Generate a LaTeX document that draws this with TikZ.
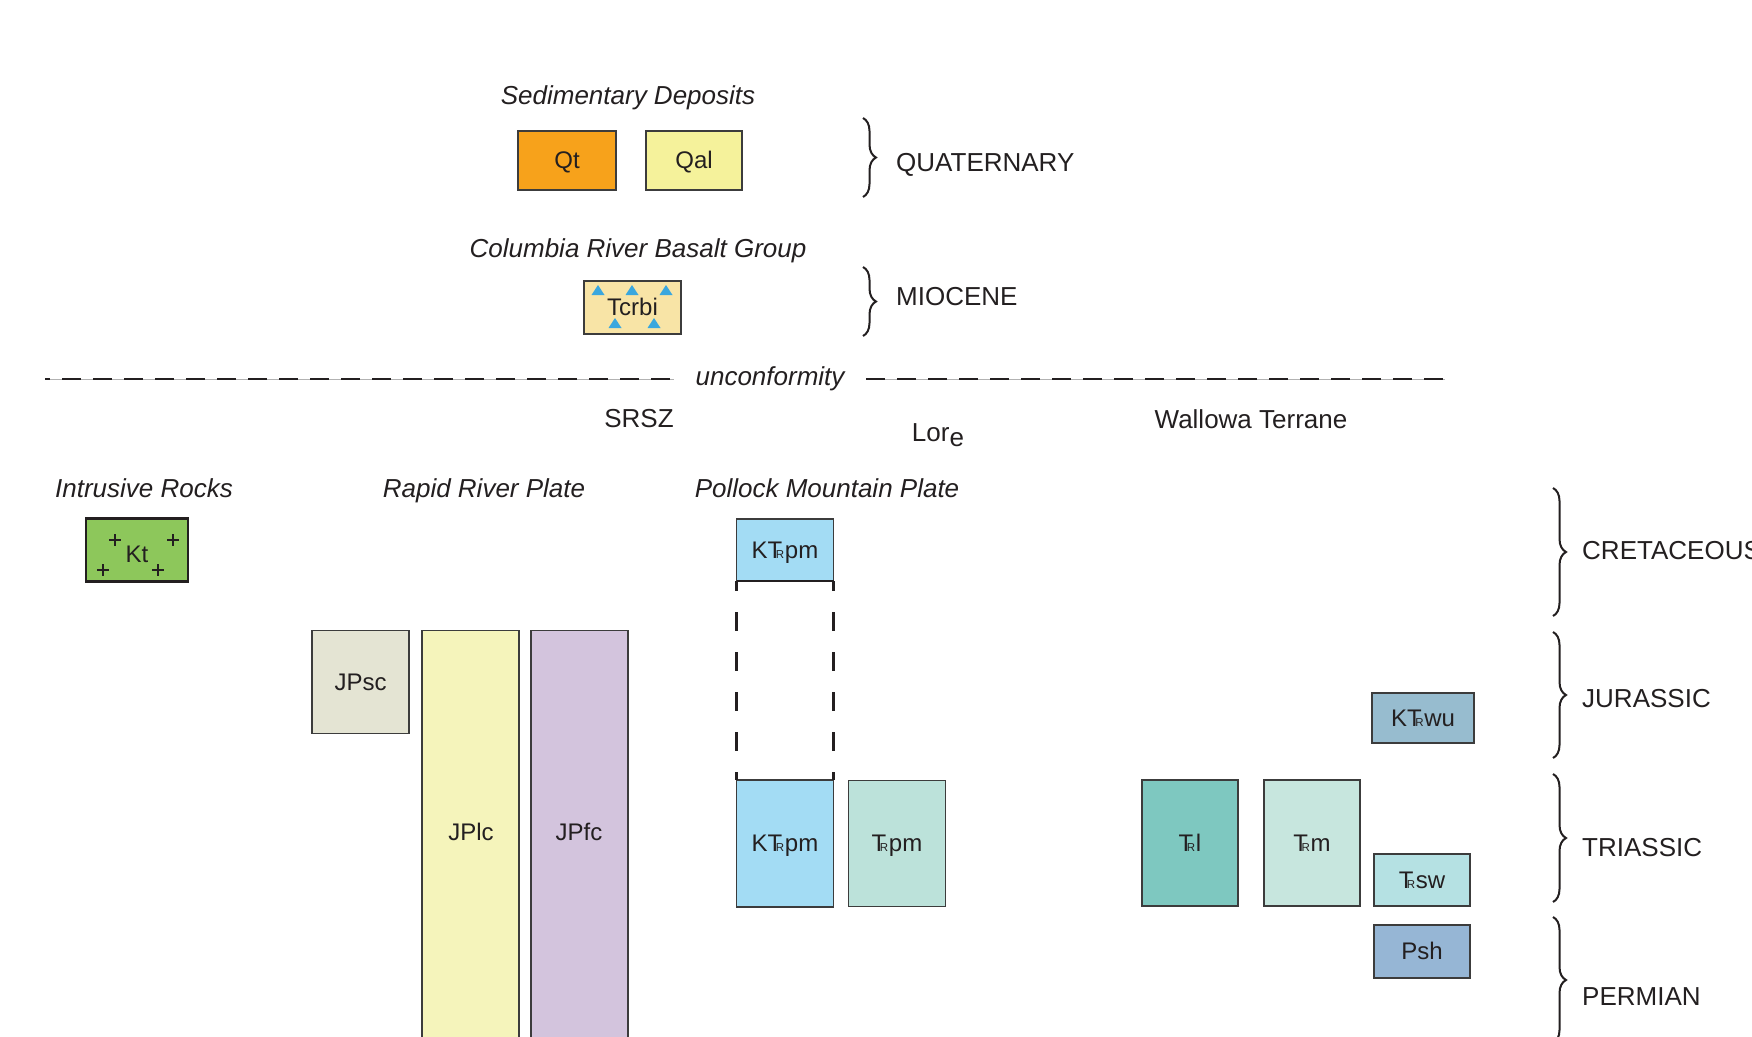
\documentclass[tikz,border=0pt]{standalone}
\usepackage{fontspec}
\setmainfont{Liberation Sans}
\usetikzlibrary{positioning,decorations.pathreplacing}

\definecolor{txt}{HTML}{231F20}
\definecolor{edge}{HTML}{3C3C3C}
\definecolor{cqt}{HTML}{F7A21B}
\definecolor{cqal}{HTML}{F5F29B}
\definecolor{ctcrbi}{HTML}{F8E4A6}
\definecolor{ctri}{HTML}{3AA7DE}
\definecolor{ckt}{HTML}{8DC75B}
\definecolor{cktrpm}{HTML}{A3DCF4}
\definecolor{ctrpm}{HTML}{BCE2DA}
\definecolor{cjpsc}{HTML}{E4E4D3}
\definecolor{cjplc}{HTML}{F5F4BB}
\definecolor{cjpfc}{HTML}{D3C4DD}
\definecolor{cktrwu}{HTML}{97BCCF}
\definecolor{ctrl}{HTML}{7EC8C0}
\definecolor{ctrm}{HTML}{C7E6DE}
\definecolor{ctrsw}{HTML}{B5E1E3}
\definecolor{cpsh}{HTML}{96B6D5}

% Triassic symbol
\newcommand{\trs}{T\kern-0.27em{\fontsize{11.5}{12}\selectfont R}\kern0.03em}

\tikzset{
  unit/.style={draw=edge, line width=1.5pt, inner sep=0pt, outer sep=0pt, text=txt,
    font=\fontsize{24}{28}\selectfont, text height=16.5pt, text depth=0pt},
  lbl/.style={text=txt, font=\fontsize{26}{30}\selectfont, inner sep=0pt,
    text height=18pt, text depth=0pt},
  grp/.style={lbl, font=\fontsize{26}{30}\selectfont\itshape},
  period/.style={lbl, anchor=west},
  agebrace/.style={draw=txt, line width=2pt, decorate,
    decoration={brace, amplitude=13pt}},
  gap/.style={draw=txt, line width=2.5pt, dash pattern=on 19pt off 21pt, dash phase=9pt},
}

\begin{document}
\begin{tikzpicture}[x=1pt, y=-1pt]
  \useasboundingbox (0,0) rectangle (1752,1036);

  % Post-accretion cover
  \node[grp] (sed) at (628,95) {Sedimentary Deposits};
  \node[unit, fill=cqt, minimum width=98pt, minimum height=59pt] (qt) at (567,160.5) {Qt};
  \node[unit, fill=cqal, minimum width=96pt, minimum height=59pt, right=30pt of qt] (qal) {Qal};

  \node[grp] (crbg) at (638,248) {Columbia River Basalt Group};
  \node[unit, fill=ctcrbi, minimum width=97pt, minimum height=53pt] (tcrbi) at (632.5,307.5) {Tcrbi};
  \foreach \x/\y in {598/290, 632/290, 666/290, 615/323, 654/323}
    \fill[ctri] (\x-6.5,\y+5) -- (\x+6.5,\y+5) -- (\x,\y-5) -- cycle;

  % Periods, upper
  \coordinate (bq1) at (863,118);
  \coordinate (bq2) at (863,197);
  \coordinate (bm1) at (863,267);
  \coordinate (bm2) at (863,336);
  \draw[agebrace] (bq1) -- (bq2);
  \draw[agebrace] (bm1) -- (bm2);
  \node[period] (quat) at (896,162) {QUATERNARY};
  \node[period] (mioc) at (896,296) {MIOCENE};

  % Unconformity
  \coordinate (uc1) at (45,379);
  \coordinate (uc2) at (674,379);
  \coordinate (uc3) at (866,379);
  \coordinate (uc4) at (1445,379);
  \node[grp] (unc) at (770,376) {unconformity};
  \draw[black!30, line width=0.8pt] (uc1) -- (uc2) (uc3) -- (uc4);
  \draw[txt, line width=2.5pt, dash pattern=on 19pt off 12pt, dash phase=14pt] (uc1) -- (uc2);
  \draw[txt, line width=2.5pt, dash pattern=on 19pt off 12pt] (uc3) -- (uc4);

  % Terrane headings
  \node[lbl] (srsz) at (639,418) {SRSZ};
  \node[lbl] (lore) at (938,432) {Lor\raisebox{-5pt}{e}};
  \node[lbl] (wall) at (1251,419) {Wallowa Terrane};
  \node[grp] (intr) at (144,488) {Intrusive Rocks};
  \node[grp] (rrp) at (484,488) {Rapid River Plate};
  \node[grp] (pmp) at (827,488) {Pollock Mountain Plate};

  % Intrusive rocks
  \node[unit, fill=ckt, draw=txt, line width=2.5pt, minimum width=102pt, minimum height=63pt] (kt) at (137,550) {};
  \node[lbl, font=\fontsize{24}{28}\selectfont, text height=16.5pt] (kttxt) at (137,554) {Kt};
  \foreach \x/\y in {115/540, 173/540, 103/570, 158/570}
    \draw[txt, line width=2pt] (\x-6,\y) -- (\x+6,\y) (\x,\y-6) -- (\x,\y+6);

  % Rapid River plate
  \node[unit, fill=cjpsc, minimum width=97pt, minimum height=103pt] (jpsc) at (360.5,682) {JPsc};
  \node[unit, fill=cjplc, minimum width=97pt, minimum height=440pt,
    right=13pt of jpsc.north east, anchor=north west] (jplc) {};
  \node[unit, fill=cjpfc, minimum width=97pt, minimum height=440pt,
    right=12pt of jplc.north east, anchor=north west] (jpfc) {};
  \node[lbl, font=\fontsize{24}{28}\selectfont, text height=16.5pt] (jplctxt) at (471,832) {JPlc};
  \node[lbl, font=\fontsize{24}{28}\selectfont, text height=16.5pt] (jpfctxt) at (579,832) {JPfc};

  % Pollock Mountain plate
  \node[unit, fill=cktrpm, minimum width=97pt, minimum height=62pt] (ktrpmA) at (785,550) {K\trs pm};
  \node[unit, fill=cktrpm, minimum width=97pt, minimum height=127pt] (ktrpmB) at (785,843.5) {K\trs pm};
  \node[unit, fill=ctrpm, minimum width=97pt, minimum height=126pt, right=15pt of ktrpmB] (trpm) {\trs pm};
  \draw[draw=txt, line width=2.5pt] (ktrpmA.south west) -- (ktrpmA.south east);
  \draw[gap] (ktrpmA.south west) -- (ktrpmB.north west);
  \draw[gap] (ktrpmA.south east) -- (ktrpmB.north east);

  % Wallowa terrane
  \node[unit, fill=cktrwu, minimum width=102pt, minimum height=50pt] (ktrwu) at (1423,718) {K\trs wu};
  \node[unit, fill=ctrl, minimum width=96pt, minimum height=126pt] (trl) at (1190,843) {\trs l};
  \node[unit, fill=ctrm, minimum width=96pt, minimum height=126pt, right=26pt of trl] (trm) {\trs m};
  \node[unit, fill=ctrsw, minimum width=96pt, minimum height=52pt] (trsw) at (1422,880) {\trs sw};
  \node[unit, fill=cpsh, minimum width=96pt, minimum height=53pt, below=19pt of trsw] (psh) {Psh};

  % Periods, lower
  \coordinate (bc1) at (1553,488);
  \coordinate (bc2) at (1553,616);
  \coordinate (bj1) at (1553,632);
  \coordinate (bj2) at (1553,758);
  \coordinate (bt1) at (1553,774);
  \coordinate (bt2) at (1553,902);
  \coordinate (bp1) at (1553,917);
  \coordinate (bp2) at (1553,1043);
  \draw[agebrace] (bc1) -- (bc2);
  \draw[agebrace] (bj1) -- (bj2);
  \draw[agebrace] (bt1) -- (bt2);
  \draw[agebrace] (bp1) -- (bp2);
  \node[period] (cret) at (1582,550) {CRETACEOUS};
  \node[period] (jura) at (1582,698) {JURASSIC};
  \node[period] (tria) at (1582,847) {TRIASSIC};
  \node[period] (perm) at (1582,996) {PERMIAN};

\end{tikzpicture}
\end{document}
